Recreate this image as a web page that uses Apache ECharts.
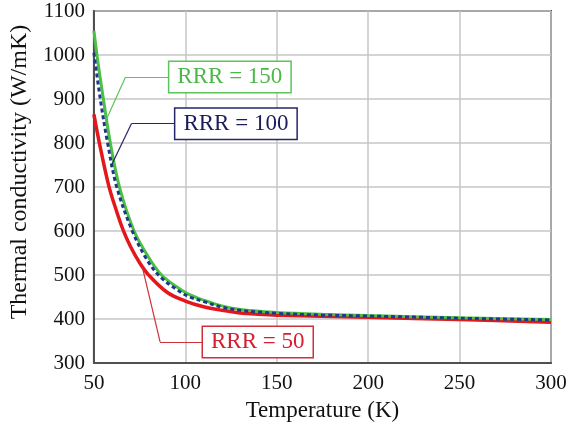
<!DOCTYPE html>
<html>
<head>
<meta charset="utf-8">
<script src="https://cdn.jsdelivr.net/npm/echarts@6/dist/echarts.min.js"></script>
<style>
  html, body { margin: 0; padding: 0; background: #fff; }
  #chart { width: 575px; height: 427px; }
</style>
</head>
<body>
<div id="chart"></div>
<script>
// Thermal conductivity of copper versus temperature for three RRR values.
const rrr50T  = [50, 53, 58, 62, 66, 70, 75, 80, 90, 100, 110, 120, 130, 140, 150, 200, 250, 300];
const rrr50K  = [865, 800, 705, 650, 602, 565, 528, 500, 461, 441, 428, 420, 414, 411, 409, 404, 399, 393];

const rrr100T = [50, 53.5, 57.5, 62.5, 71, 79, 86, 95, 102, 110, 120, 130, 140, 150, 175, 200, 250, 300];
const rrr100K = [1005, 900, 800, 700, 600, 535, 497, 468, 451, 440, 427, 420, 416, 413, 409, 407, 402, 398];

const rrr150T = [50, 52, 55, 59, 64, 72, 80, 87, 95, 102, 110, 120, 130, 140, 150, 175, 200, 250, 300];
const rrr150K = [1055, 990, 905, 800, 700, 600, 540, 500, 474, 456, 443, 430, 422, 418, 415, 411, 408, 403, 399];

const xTicks = { min: 50, max: 300, step: 50 };
const yTicks = { min: 300, max: 1100, step: 100 };

// Callout labels: [curve point, elbow, box anchor] in data units
const callout50  = [[76.5, 518], [86.2, 348], [109.4, 348]];
const callout100 = [[59.2, 746], [70.5, 844], [94.3, 844]];
const callout150 = [[57.0, 855], [67.3, 950], [91.0, 950]];

const pair = (ts, ks) => ts.map((t, i) => [t, ks[i]]);
const SERIF = '"Liberation Serif", "Times New Roman", serif';

function callout(points, text, lineColor, textColor) {
  return {
    markLine: {
      silent: true,
      animation: false,
      symbol: ['none', 'none'],
      label: { show: false },
      lineStyle: { color: lineColor, width: 1.2, type: 'solid' },
      data: [
        [{ coord: points[0] }, { coord: points[1] }],
        [{ coord: points[1] }, { coord: points[2] }]
      ]
    },
    markPoint: {
      silent: true,
      animation: false,
      symbol: 'rect',
      symbolSize: 1,
      itemStyle: { color: 'rgba(0,0,0,0)' },
      data: [{ coord: points[2] }],
      label: {
        show: true,
        position: 'right',
        distance: 0,
        formatter: text,
        color: textColor,
        fontFamily: SERIF,
        fontSize: 23,
        lineHeight: 24,
        backgroundColor: '#fff',
        borderColor: lineColor,
        borderWidth: 1.5,
        padding: [4, 8, 2, 8]
      }
    }
  };
}

const plain = v => String(v);

const chart = echarts.init(document.getElementById('chart'));
chart.setOption({
  animation: false,
  backgroundColor: '#fff',
  grid: {
    left: 88, right: 24, top: 11, bottom: 63,
    show: true, borderColor: '#505050', borderWidth: 2
  },
  xAxis: {
    type: 'value',
    min: xTicks.min, max: xTicks.max, interval: xTicks.step,
    name: 'Temperature (K)',
    nameLocation: 'middle',
    nameGap: 35,
    nameTextStyle: { fontFamily: SERIF, fontSize: 23, color: '#111' },
    axisLine: { lineStyle: { color: '#505050', width: 2 } },
    axisTick: { show: false },
    axisLabel: { fontFamily: SERIF, fontSize: 21, color: '#111', margin: 10, formatter: plain },
    splitLine: { lineStyle: { color: '#c6c6c6', width: 1.5 } }
  },
  yAxis: {
    type: 'value',
    min: yTicks.min, max: yTicks.max, interval: yTicks.step,
    name: 'Thermal conductivity (W/mK)',
    nameLocation: 'middle',
    nameGap: 55,
    nameTextStyle: { fontFamily: SERIF, fontSize: 24, color: '#111', padding: [0, 0, 0, 30] },
    axisLine: { lineStyle: { color: '#505050', width: 2 } },
    axisTick: { show: false },
    axisLabel: { fontFamily: SERIF, fontSize: 21, color: '#111', margin: 9, formatter: plain },
    splitLine: { lineStyle: { color: '#c6c6c6', width: 1.5 } }
  },
  series: [
    Object.assign({
      name: 'RRR = 50', type: 'line', data: pair(rrr50T, rrr50K),
      smooth: 0.35, showSymbol: false,
      lineStyle: { color: '#e3171c', width: 3.5 }
    }, callout(callout50, 'RRR = 50', '#d0303a', '#d42030')),
    Object.assign({
      name: 'RRR = 150', type: 'line', data: pair(rrr150T, rrr150K),
      smooth: 0.35, showSymbol: false,
      lineStyle: { color: '#4dbf45', width: 3 }
    }, callout(callout150, 'RRR = 150', '#5cc45a', '#4cb848')),
    Object.assign({
      name: 'RRR = 100', type: 'line', data: pair(rrr100T, rrr100K),
      smooth: 0.35, showSymbol: false,
      lineStyle: { color: '#1b3a8c', width: 3, type: [4, 3] }
    }, callout(callout100, 'RRR = 100', '#25256a', '#1c1c5c'))
  ]
});
</script>
</body>
</html>
